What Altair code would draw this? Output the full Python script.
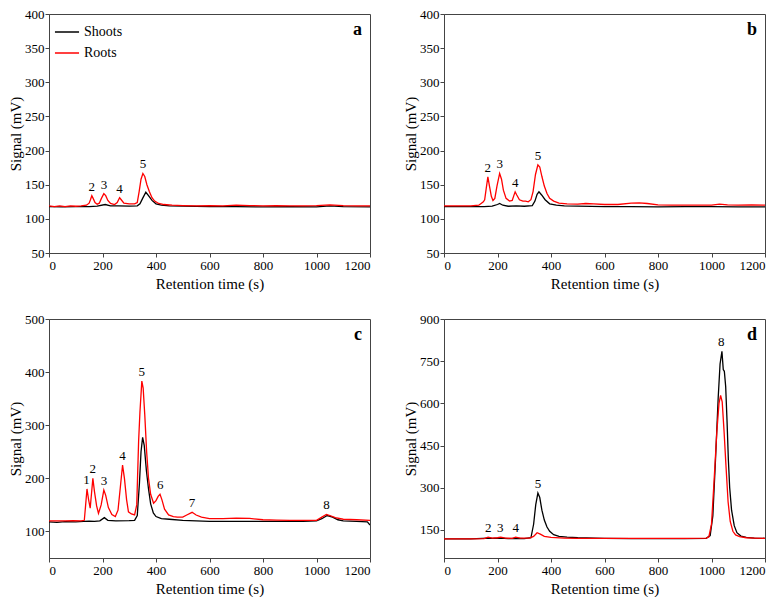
import altair as alt
import pandas as pd

FONT = "Liberation Serif"

# ---------------- Panel a ----------------
a_roots_t = [0, 20, 40, 60, 80, 100, 120, 140, 150, 155, 160, 165, 172, 180, 188, 196, 205, 212, 220, 230, 245, 255, 264, 270, 280, 300, 320, 330, 337, 344, 351, 358, 366, 375, 385, 395, 410, 430, 460, 500, 550, 600, 650, 700, 750, 800, 850, 900, 950, 1000, 1050, 1100, 1150, 1200]
a_roots_v = [119, 118, 119, 118, 119, 118.5, 119, 120, 123, 128, 134, 130, 124, 121.5, 123, 130, 137, 134, 127, 122.5, 121, 124, 131, 128, 123, 122, 122, 124, 140, 158, 166.5, 162, 150, 140, 131, 126, 122.5, 121, 120, 119.5, 119, 119.5, 119, 120, 119.5, 119, 119.5, 119, 119, 119.5, 120.5, 119.5, 119, 119]
a_shoots_t = [0, 50, 100, 150, 180, 210, 230, 260, 300, 330, 340, 350, 362, 372, 385, 400, 420, 450, 500, 600, 700, 800, 900, 1000, 1050, 1100, 1200]
a_shoots_v = [118, 117.5, 118, 118, 118.5, 121, 119, 119, 118.5, 119, 122, 130, 139, 134, 127, 122, 120, 119, 118.5, 118, 118, 117.5, 118, 117.5, 119, 118, 117.5]
a_lab = ["2", "3", "4", "5"]
a_lab_t = [160, 206, 264, 351]
a_lab_v = [134, 137, 131, 166.5]

# ---------------- Panel b ----------------
b_roots_t = [0, 50, 100, 130, 140, 147, 152, 158, 164, 170, 177, 183, 190, 198, 208, 215, 222, 232, 245, 255, 261, 266, 272, 282, 295, 305, 315, 325, 333, 342, 351, 358, 366, 375, 385, 395, 410, 430, 460, 500, 530, 560, 600, 650, 700, 730, 760, 800, 850, 900, 950, 1000, 1030, 1060, 1100, 1150, 1200]
b_roots_v = [119, 119, 119, 120, 123, 125, 128, 145, 161.5, 148, 133, 127, 130, 148, 166.5, 158, 142, 130, 126, 127, 134, 139.5, 135, 128, 126, 126, 125, 128, 140, 165, 179, 176, 162, 148, 137, 130, 126, 123, 122, 121.5, 122.5, 122, 121, 121, 123, 123.5, 122.5, 120.5, 120, 120, 120, 120, 121.5, 120.5, 120, 120.5, 120]
b_shoots_t = [0, 50, 100, 150, 180, 200, 208, 220, 240, 270, 300, 330, 340, 348, 355, 365, 378, 395, 420, 450, 500, 600, 700, 800, 900, 1000, 1100, 1200]
b_shoots_v = [118, 118, 118, 118, 118.5, 121, 122.5, 120, 118.5, 119, 118.5, 119.5, 126, 136, 139.5, 135, 128, 122, 120, 119, 118.5, 118, 118, 117.5, 118, 118, 117.5, 117.5]
b_lab = ["2", "3", "4", "5"]
b_lab_t = [164, 208, 266, 351]
b_lab_v = [161.5, 166.5, 139.5, 179]

# ---------------- Panel c ----------------
c_roots_t = [0, 30, 60, 90, 120, 132, 137, 142, 148, 154, 159, 164, 170, 178, 185, 195, 205, 212, 222, 235, 248, 258, 266, 275, 282, 290, 297, 308, 320, 328, 335, 340, 347, 352, 358, 365, 372, 380, 391, 400, 408, 415, 422, 432, 447, 465, 480, 500, 515, 535, 550, 570, 600, 650, 700, 750, 800, 850, 900, 950, 1000, 1020, 1037, 1050, 1070, 1100, 1150, 1200]
c_roots_v = [120, 120, 120, 120.5, 120, 121, 150, 180, 160, 144, 172, 200, 175, 148, 134, 150, 178, 168, 145, 132, 128, 140, 180, 225, 200, 160, 137, 133, 131, 150, 270, 325, 383, 370, 320, 250, 200, 170, 153, 158, 166, 170, 160, 142, 131, 128, 127, 127, 131, 136, 131, 127, 124, 124, 125, 124.5, 122, 121.5, 121, 121, 121, 127, 132, 130, 126, 123, 122, 121]
c_shoots_t = [0, 30, 60, 100, 130, 150, 170, 190, 207, 220, 250, 300, 320, 330, 338, 344, 350, 356, 364, 372, 380, 390, 400, 420, 450, 500, 550, 600, 700, 800, 900, 950, 1000, 1020, 1040, 1060, 1080, 1100, 1150, 1190, 1200]
c_shoots_v = [118, 117, 118.5, 118, 119, 119.5, 119, 120, 126, 121, 120, 120.5, 121, 130, 190, 250, 277, 262, 215, 180, 152, 135, 128, 124, 123, 121, 120, 119, 119, 119, 119, 119, 120, 124, 130, 127, 122, 120, 119, 118, 112]
c_lab = ["1", "2", "3", "4", "5", "6", "7", "8"]
c_lab_t = [140, 164, 206, 275, 347, 416, 535, 1037]
c_lab_v = [180, 200, 178, 225, 383, 170, 136, 132]

# ---------------- Panel d ----------------
d_shoots_t = [0, 100, 165, 180, 210, 240, 268, 300, 325, 335, 343, 351, 358, 366, 375, 385, 395, 410, 430, 460, 500, 600, 700, 800, 900, 980, 995, 1005, 1015, 1025, 1032, 1039, 1044, 1048, 1053, 1058, 1063, 1068, 1075, 1085, 1095, 1110, 1130, 1160, 1200]
d_shoots_v = [118, 118, 121, 120, 121, 119, 120, 119, 122, 170, 240, 281, 265, 220, 185, 160, 145, 133, 127, 124, 122, 120, 119, 119, 119, 120, 130, 200, 400, 620, 740, 785, 720, 714, 660, 540, 400, 300, 220, 165, 140, 128, 123, 121, 120]
d_roots_t = [0, 100, 150, 165, 180, 200, 212, 230, 255, 268, 285, 320, 335, 348, 360, 375, 400, 450, 500, 600, 700, 800, 900, 980, 990, 1000, 1010, 1020, 1028, 1034, 1040, 1047, 1054, 1062, 1070, 1080, 1090, 1105, 1130, 1160, 1200]
d_roots_v = [118, 118, 119, 124, 121, 122, 124, 121, 120, 124, 121, 121, 127, 140, 135, 127, 123, 121, 120, 120, 120, 120, 120, 121, 125, 170, 330, 500, 600, 628, 605, 500, 380, 250, 180, 145, 132, 126, 122, 121, 120]
d_lab = ["2", "3", "4", "5", "8"]
d_lab_t = [165, 210, 268, 351, 1036]
d_lab_v = [124, 124, 124, 281, 785]

SERIES = ["Shoots", "Roots"]
COLORS = ["#000000", "#ff0000"]
W, H = 321, 239
AXC = "#444444"


def panel(letter, sh_t, sh_v, ro_t, ro_v, lab, lab_t, lab_v, ydom, yvals):
    df = pd.concat([
        pd.DataFrame({"time": sh_t, "signal": sh_v, "series": "Shoots"}),
        pd.DataFrame({"time": ro_t, "signal": ro_v, "series": "Roots"}),
    ])
    labs = pd.DataFrame({"time": lab_t, "signal": lab_v, "label": lab})
    xs = alt.Scale(domain=[0, 1200], nice=False)
    ys = alt.Scale(domain=ydom, nice=False, zero=False)
    xax = alt.Axis(values=list(range(0, 1201, 200)), format="d", labelOverlap=False,
                   title="Retention time (s)", titlePadding=4, labelPadding=2)
    yax = alt.Axis(values=yvals, format="d", labelOverlap=False, title="Signal (mV)",
                   titlePadding=1, labelPadding=1)
    x = alt.X("time:Q", scale=xs, axis=xax)
    y = alt.Y("signal:Q", scale=ys, axis=yax)
    lines = alt.Chart(df).mark_line(strokeWidth=1.3, clip=True).encode(
        x=x, y=y,
        color=alt.Color("series:N", scale=alt.Scale(domain=SERIES, range=COLORS),
                        sort=SERIES,
                        legend=alt.Legend(orient="top-left", title=None, symbolType="stroke",
                                          symbolSize=580, symbolStrokeWidth=1.5,
                                          labelFont=FONT, labelFontSize=14, labelColor="#000000",
                                          rowPadding=1, offset=5, padding=0,
                                          labelOffset=4)),
        detail="series:N",
    )
    texts = alt.Chart(labs).mark_text(font=FONT, fontSize=13, baseline="bottom", dy=-2).encode(
        x=x, y=y, text="label:N")
    let = alt.Chart(pd.DataFrame({"t": [letter]})).mark_text(
        font=FONT, fontSize=18, fontWeight="bold", align="right", baseline="top").encode(
        x=alt.value(W - 8), y=alt.value(7), text="t:N")
    return alt.layer(lines, texts, let).properties(width=W, height=H)


pa = panel("a", a_shoots_t, a_shoots_v, a_roots_t, a_roots_v, a_lab, a_lab_t, a_lab_v,
           [50, 400], [50, 100, 150, 200, 250, 300, 350, 400])
pb = panel("b", b_shoots_t, b_shoots_v, b_roots_t, b_roots_v, b_lab, b_lab_t, b_lab_v,
           [50, 400], [50, 100, 150, 200, 250, 300, 350, 400])
pc = panel("c", c_shoots_t, c_shoots_v, c_roots_t, c_roots_v, c_lab, c_lab_t, c_lab_v,
           [50, 500], [100, 200, 300, 400, 500])
pd_ = panel("d", d_shoots_t, d_shoots_v, d_roots_t, d_roots_v, d_lab, d_lab_t, d_lab_v,
            [50, 900], [150, 300, 450, 600, 750, 900])

chart = alt.vconcat(
    alt.hconcat(pa, pb, spacing=32),
    alt.hconcat(pc, pd_, spacing=32),
    spacing=20,
).properties(
    padding={"left": 0, "top": -1, "right": 0, "bottom": 0}
).configure_view(
    stroke=AXC, strokeWidth=1
).configure_axis(
    grid=False, domainColor=AXC, tickColor=AXC, tickSize=4,
    labelFont=FONT, labelFontSize=13, labelColor="#000000",
    titleFont=FONT, titleFontSize=15, titleFontWeight="normal", titleColor="#000000",
)

chart.save("out.html", embed_options={"renderer": "svg", "actions": False})
